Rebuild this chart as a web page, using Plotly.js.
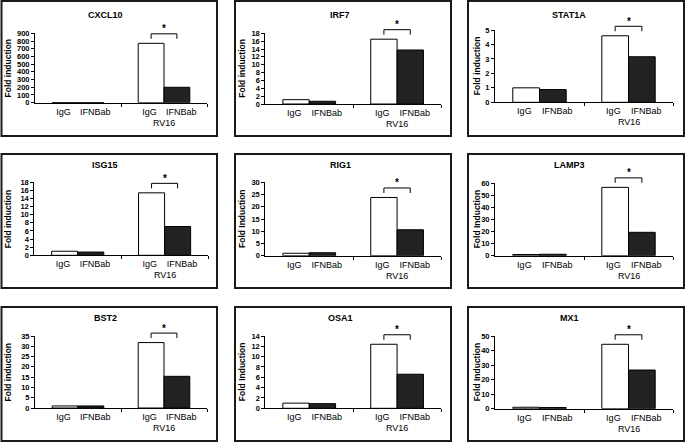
<!DOCTYPE html>
<html>
<head>
<meta charset="utf-8">
<script src="https://cdn.plot.ly/plotly-3.0.1.min.js"></script>
<style>html,body{margin:0;padding:0;background:#fff;}#chart{width:685px;height:442px;}</style>
</head>
<body>
<div id="chart"></div>
<script>
// ---- data ----
const genes = ['CXCL10', 'IRF7', 'STAT1A', 'ISG15', 'RIG1', 'LAMP3', 'BST2', 'OSA1', 'MX1'];
const yTitles = ['Fold induction', 'Fold induction', 'Fold induction', 'Fold induction', 'Fold Induction',
                 'Fold Induction', 'Fold induction', 'Fold Induction', 'Fold Induction'];
const barLabels = ['IgG', 'IFNBab'];
const groupLabels = ['', 'RV16'];
const iggMock = [1.0, 1.1, 1.0, 1.0, 1.0, 1.0, 1.0, 1.0, 1.0];
const ifnMock = [0.8, 0.7, 0.88, 0.8, 1.2, 1.2, 1.0, 0.9, 0.8];
const iggRV16 = [770, 16.5, 4.6, 15.4, 23.8, 56.4, 31.8, 12.4, 44.3];
const ifnRV16 = [200, 13.75, 3.15, 7.1, 10.6, 19.3, 15.4, 6.6, 26.6];
const yMax = [900, 18, 5, 18, 30, 60, 35, 14, 50];
const yStep = [100, 2, 1, 2, 5, 10, 5, 2, 10];

// ---- layout geometry (pixels) ----
const W = 685, H = 442;
const geo = [
  {L: 35, R: 207, T: 33.3, B: 102.7}, {L: 265.3, R: 441, T: 33.3, B: 104}, {L: 495, R: 673, T: 30, B: 102.3},
  {L: 34.3, R: 208, T: 182.3, B: 255.3}, {L: 265.3, R: 441, T: 182.3, B: 255.7}, {L: 495, R: 673, T: 183, B: 255.7},
  {L: 35, R: 207, T: 336, B: 408}, {L: 265.3, R: 441, T: 336, B: 408.3}, {L: 495, R: 673, T: 336, B: 408.7}
];
const boxCols = [[1.5, 217], [235, 451], [468, 684]];
const boxRows = [[1, 136], [154, 288], [307, 441]];
const titleX = [105, 340, 569];
const titleY = [15, 164.7, 317.7];
const yTitleX = [7.5, 242, 477];

const FONT = 'Liberation Sans, Arial, sans-serif';
const BARW = 0.3; // each bar width in category units (bargap 0.4)
const groupCenters = [0.5, 1.5];

const traces = [];
const layout = {
  width: W, height: H,
  margin: {l: 0, r: 0, t: 0, b: 0},
  paper_bgcolor: '#fff', plot_bgcolor: '#fff',
  showlegend: false,
  barmode: 'group', bargap: 0.4, bargroupgap: 0,
  font: {family: FONT, color: '#000'},
  shapes: [], annotations: []
};

genes.forEach((g, i) => {
  const n = i + 1;
  const xa = 'x' + (n === 1 ? '' : n), ya = 'y' + (n === 1 ? '' : n);
  const xk = 'xaxis' + (n === 1 ? '' : n), yk = 'yaxis' + (n === 1 ? '' : n);
  const p = geo[i];
  const col = i % 3, row = Math.floor(i / 3);

  traces.push({
    type: 'bar', x: groupCenters, y: [iggMock[i], iggRV16[i]], name: barLabels[0],
    xaxis: xa, yaxis: ya,
    marker: {color: '#ffffff', line: {color: '#000', width: 1}}, hoverinfo: 'none'
  });
  traces.push({
    type: 'bar', x: groupCenters, y: [ifnMock[i], ifnRV16[i]], name: barLabels[1],
    xaxis: xa, yaxis: ya,
    marker: {color: '#222222', line: {color: '#000', width: 1}}, hoverinfo: 'none'
  });

  const tv = [], tt = [];
  groupCenters.forEach(c => {
    tv.push(c - BARW / 2 - 0.02); tt.push(barLabels[0]);
    tv.push(c + BARW / 2 + 0.05); tt.push(barLabels[1]);
  });

  layout[xk] = {
    domain: [p.L / W, p.R / W], anchor: ya, range: [0, 2],
    showline: true, linecolor: '#000', linewidth: 1,
    showgrid: false, zeroline: false,
    tickmode: 'array', tickvals: tv, ticktext: tt, ticks: '',
    tickfont: {family: FONT, size: 9, color: '#000'},
    minor: {tickmode: 'array', tickvals: [1, 2], ticks: 'outside', ticklen: 3, tickwidth: 1, tickcolor: '#000', showgrid: false},
    fixedrange: true
  };
  layout[yk] = {
    domain: [1 - p.B / H, 1 - p.T / H], anchor: xa, range: [0, yMax[i]],
    tickmode: 'linear', tick0: 0, dtick: yStep[i],
    showline: true, linecolor: '#000', linewidth: 1,
    showgrid: false, zeroline: false,
    ticks: 'outside', ticklen: 3, tickwidth: 1, tickcolor: '#000',
    tickfont: {family: FONT, size: 7.5, color: '#000', weight: 'bold'},
    fixedrange: true
  };

  // panel frame
  layout.shapes.push({
    type: 'rect', xref: 'paper', yref: 'paper',
    x0: boxCols[col][0] / W, x1: boxCols[col][1] / W,
    y0: 1 - boxRows[row][1] / H, y1: 1 - boxRows[row][0] / H,
    line: {color: '#1a1a1a', width: 2}, fillcolor: 'rgba(0,0,0,0)'
  });

  // chart title
  layout.annotations.push({
    xref: 'paper', yref: 'paper', x: titleX[col] / W, y: 1 - titleY[row] / H,
    xanchor: 'center', yanchor: 'middle', showarrow: false,
    text: g, font: {family: FONT, size: 9, color: '#000', weight: 'bold'}
  });
  // y axis title
  layout.annotations.push({
    xref: 'paper', yref: 'paper', x: yTitleX[col] / W, y: 1 - ((p.T + p.B) / 2) / H,
    xanchor: 'center', yanchor: 'middle', showarrow: false, textangle: -90,
    text: yTitles[i], font: {family: FONT, size: 8.5, color: '#000', weight: 'bold'}
  });
  // group label
  groupLabels.forEach((lab, k) => {
    if (!lab) return;
    layout.annotations.push({
      xref: xa, yref: ya + ' domain', x: groupCenters[k], y: 0,
      xanchor: 'center', yanchor: 'middle', yshift: -20, showarrow: false,
      text: lab, font: {family: FONT, size: 9, color: '#000'}
    });
  });

  // significance bracket over RV16 group
  const c = groupCenters[1];
  const xl = c - BARW / 2, xr = c + BARW / 2;
  const anchorY = iggRV16[i] / yMax[i];
  const top = 9.5, leg = 5;
  const common = {xref: xa, yref: ya + ' domain', ysizemode: 'pixel', yanchor: anchorY,
                  line: {color: '#000', width: 1}};
  layout.shapes.push(Object.assign({type: 'line', x0: xl, x1: xr, y0: top, y1: top}, common));
  layout.shapes.push(Object.assign({type: 'line', x0: xl, x1: xl, y0: top, y1: top - leg}, common));
  layout.shapes.push(Object.assign({type: 'line', x0: xr, x1: xr, y0: top, y1: top - leg}, common));
  layout.annotations.push({
    xref: xa, yref: ya + ' domain', x: c, y: anchorY,
    xanchor: 'center', yanchor: 'middle', yshift: top + 5, showarrow: false,
    text: '*', font: {family: FONT, size: 10, color: '#000', weight: 'bold'}
  });
});

Plotly.newPlot('chart', traces, layout, {staticPlot: true, displayModeBar: false});
</script>
</body>
</html>
